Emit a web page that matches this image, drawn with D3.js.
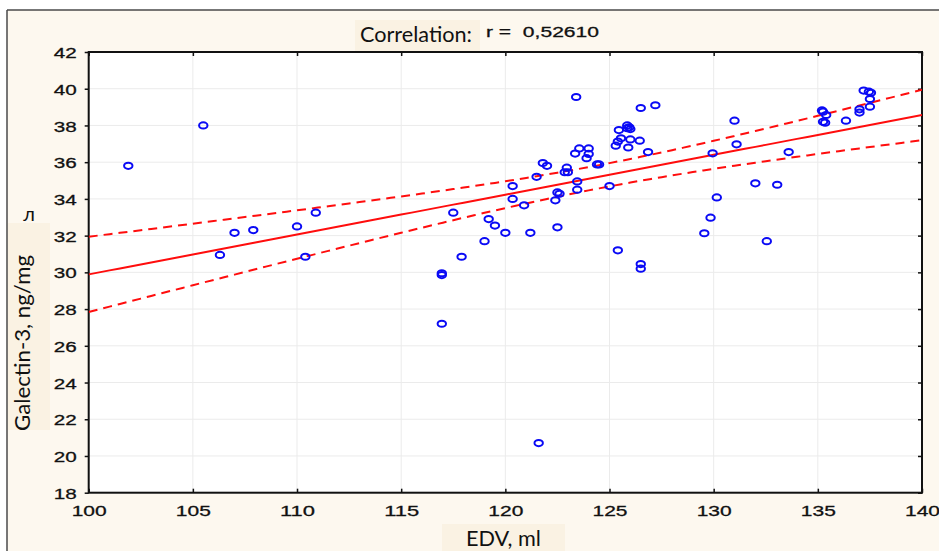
<!DOCTYPE html>
<html>
<head>
<meta charset="utf-8">
<script src="https://cdn.jsdelivr.net/npm/d3@7/dist/d3.min.js"></script>
<style>
  html, body { margin: 0; padding: 0; background: #ffffff; }
  svg { display: block; }
</style>
</head>
<body>
<svg id="chart" width="939" height="551"></svg>
<script>
// EDV (ml) and Galectin-3 (ng/ml) per patient
const edv = [
  101.9, 105.5, 106.3, 107.0, 107.9, 110.0, 110.4, 110.9,
  116.95, 116.95, 116.95, 117.5, 117.9, 121.6,
  119.0, 119.2, 119.5, 120.0, 120.35, 120.35, 120.9, 121.2, 121.5, 121.8, 122.0,
  122.5, 122.6, 122.4, 122.5, 122.95, 122.85, 123.0, 123.45, 123.45, 123.4,
  123.35, 123.55, 124.0, 124.0, 123.9, 124.4, 124.5, 125.0, 125.4,
  125.3, 125.4, 125.55, 125.45, 125.85, 125.95, 126.0, 125.85, 126.0, 125.9,
  126.45, 126.85, 126.5, 127.2, 126.5, 126.5,
  129.55, 129.85, 129.95, 130.15, 131.0, 131.1, 132.0, 132.55, 133.05, 133.6,
  135.2, 135.25, 135.4, 135.25, 135.35, 136.35, 137.0, 137.0, 137.2, 137.45, 137.55, 137.5, 137.5
];
const galectin = [
  35.8, 38.0, 30.95, 32.15, 32.3, 32.5, 30.85, 33.25,
  29.85, 29.95, 27.2, 33.25, 30.85, 20.7,
  31.7, 32.9, 32.55, 32.15, 34.7, 34.0, 33.65, 32.15, 35.2, 35.95, 35.8,
  34.35, 34.28, 33.92, 32.45, 35.7, 35.45, 35.45, 34.95, 34.5, 39.55,
  36.47, 36.75, 36.75, 36.45, 36.22, 35.88, 35.88, 34.7, 31.2,
  36.9, 37.12, 37.3, 37.75, 38.0, 37.9, 37.8, 37.85, 37.24, 36.8,
  37.17, 36.55, 38.95, 39.1, 30.45, 30.2,
  32.13, 32.98, 36.48, 34.08, 38.26, 36.97, 34.85, 31.7, 34.77, 36.55,
  38.82, 38.75, 38.57, 38.2, 38.15, 38.26, 38.88, 38.7, 39.9, 39.84, 39.78, 39.44, 39.02
];

// Axis ticks
const xTicks = [100, 105, 110, 115, 120, 125, 130, 135, 140];
const yTicks = [18, 20, 22, 24, 26, 28, 30, 32, 34, 36, 38, 40, 42];

// Linear fit and its 95% confidence band
const fitIntercept = 8.19;
const fitSlope = 0.217;
const bandCenterX = 124.6;
const bandMinVar = 0.4;
const bandCurve = 0.00628;
const correlationR = "0,52610";

const svg = d3.select("#chart");
const W = 939, H = 551;
const plot = { left: 88.7, right: 922, top: 52, bottom: 492.7 };

const x = d3.scaleLinear().domain([100, 140]).range([plot.left, plot.right]);
const y = d3.scaleLinear().domain([18, 42]).range([plot.bottom, plot.top]);

const bg = "#fdf8ef";
const boxBg = "#faf2e3";

// Page background with the outer border on top and left
svg.append("rect").attr("x", 7).attr("y", 10).attr("width", W - 7).attr("height", H - 10).attr("fill", bg);
svg.append("line").attr("x1", 7).attr("y1", 10).attr("x2", W).attr("y2", 10)
  .attr("stroke", "#4a4a4a").attr("stroke-width", 1.5);
svg.append("line").attr("x1", 7).attr("y1", 10).attr("x2", 7).attr("y2", H)
  .attr("stroke", "#4a4a4a").attr("stroke-width", 1.5);

// Plot area
svg.append("rect")
  .attr("x", plot.left).attr("y", plot.top)
  .attr("width", plot.right - plot.left).attr("height", plot.bottom - plot.top)
  .attr("fill", "#ffffff");

// Grid
const grid = svg.append("g").attr("stroke", "#ebebeb").attr("stroke-width", 1);
grid.selectAll(".gx").data(xTicks).join("line")
  .attr("x1", d => x(d)).attr("x2", d => x(d))
  .attr("y1", plot.top).attr("y2", plot.bottom);
grid.selectAll(".gy").data(yTicks).join("line")
  .attr("x1", plot.left).attr("x2", plot.right)
  .attr("y1", d => y(d)).attr("y2", d => y(d));

// Axes
const tickFont = "'Liberation Sans', Arial, sans-serif";
function styleAxis(g) {
  g.select(".domain").remove();
  g.selectAll(".tick line").attr("stroke", "#111").attr("stroke-width", 1.5);
}

const axLeft = svg.append("g").attr("transform", `translate(${plot.left},0)`)
  .call(d3.axisLeft(y).tickValues(yTicks).tickSize(4).tickFormat(d3.format("d")));
styleAxis(axLeft);
axLeft.selectAll(".tick text")
  .attr("x", -12).attr("dy", "0.36em")
  .attr("font-family", tickFont).attr("font-size", 15.5).attr("fill", "#111")
  .attr("stroke", "#111").attr("stroke-width", 0.3)
  .attr("textLength", 23).attr("lengthAdjust", "spacingAndGlyphs");

const axBottom = svg.append("g").attr("transform", `translate(0,${plot.bottom})`)
  .call(d3.axisBottom(x).tickValues(xTicks).tickSize(-4).tickFormat(d3.format("d")));
styleAxis(axBottom);
axBottom.selectAll(".tick text")
  .attr("y", 23.5).attr("dy", 0)
  .attr("font-family", tickFont).attr("font-size", 15.5).attr("fill", "#111")
  .attr("stroke", "#111").attr("stroke-width", 0.3)
  .attr("textLength", 35).attr("lengthAdjust", "spacingAndGlyphs");

const axTop = svg.append("g").attr("transform", `translate(0,${plot.top})`)
  .call(d3.axisTop(x).tickValues(xTicks).tickSize(-4).tickFormat(""));
styleAxis(axTop);

const axRight = svg.append("g").attr("transform", `translate(${plot.right},0)`)
  .call(d3.axisRight(y).tickValues(yTicks).tickSize(-4).tickFormat(""));
styleAxis(axRight);

// Frame
svg.append("rect")
  .attr("x", plot.left).attr("y", plot.top)
  .attr("width", plot.right - plot.left).attr("height", plot.bottom - plot.top)
  .attr("fill", "none").attr("stroke", "#111").attr("stroke-width", 2);

// Fit line and confidence band
const xs = d3.range(100, 140.01, 0.5);
const fit = v => fitIntercept + fitSlope * v;
const half = v => Math.sqrt(bandMinVar + bandCurve * (v - bandCenterX) ** 2);
const line = d3.line().x(d => x(d[0])).y(d => y(d[1]));

svg.append("clipPath").attr("id", "plotClip")
  .append("rect").attr("x", plot.left).attr("y", plot.top)
  .attr("width", plot.right - plot.left).attr("height", plot.bottom - plot.top);

const fitG = svg.append("g").attr("clip-path", "url(#plotClip)")
  .attr("fill", "none").attr("stroke", "#ff0d0d");
fitG.append("path").attr("d", line(xs.map(v => [v, fit(v)]))).attr("stroke-width", 2);
fitG.append("path").attr("d", line(xs.map(v => [v, fit(v) + half(v)])))
  .attr("stroke-width", 2).attr("stroke-dasharray", "9,6");
fitG.append("path").attr("d", line(xs.map(v => [v, fit(v) - half(v)])))
  .attr("stroke-width", 2).attr("stroke-dasharray", "9,6");

// Points
svg.append("g").selectAll("ellipse").data(edv.map((v, i) => [v, galectin[i]])).join("ellipse")
  .attr("cx", d => x(d[0])).attr("cy", d => y(d[1]))
  .attr("rx", 4.2).attr("ry", 3.1)
  .attr("fill", "none").attr("stroke", "#0a0af5").attr("stroke-width", 2);

// Title
const labelFont = "Lato, 'Open Sans', sans-serif";
svg.append("rect").attr("x", 355).attr("y", 20).attr("width", 125).attr("height", 31).attr("fill", boxBg);
svg.append("text").attr("x", 360).attr("y", 42)
  .attr("font-family", labelFont).attr("font-size", 21).attr("fill", "#111")
  .attr("textLength", 112).attr("lengthAdjust", "spacingAndGlyphs")
  .text("Correlation:");
svg.append("text").attr("x", 486).attr("y", 37)
  .attr("font-family", tickFont).attr("font-size", 15.5).attr("fill", "#111")
  .attr("stroke", "#111").attr("stroke-width", 0.3)
  .attr("textLength", 113).attr("lengthAdjust", "spacingAndGlyphs")
  .attr("xml:space", "preserve")
  .text("r =  " + correlationR);

// X axis title
svg.append("rect").attr("x", 442).attr("y", 524).attr("width", 123).attr("height", 27).attr("fill", boxBg);
svg.append("text").attr("x", 466).attr("y", 546)
  .attr("font-family", labelFont).attr("font-size", 21).attr("fill", "#111")
  .attr("textLength", 75).attr("lengthAdjust", "spacingAndGlyphs")
  .text("EDV, ml");

// Y axis title
svg.append("rect").attr("x", 8).attr("y", 223).attr("width", 42).attr("height", 207).attr("fill", boxBg);
svg.append("text").attr("transform", "translate(30,431) rotate(-90)")
  .attr("font-family", labelFont).attr("font-size", 21).attr("fill", "#111")
  .attr("textLength", 176).attr("lengthAdjust", "spacingAndGlyphs")
  .text("Galectin-3, ng/mg");
svg.append("text").attr("x", 29).attr("y", 221).attr("text-anchor", "middle")
  .attr("font-family", labelFont).attr("font-size", 20).attr("fill", "#111")
  .text("л");
</script>
</body>
</html>
